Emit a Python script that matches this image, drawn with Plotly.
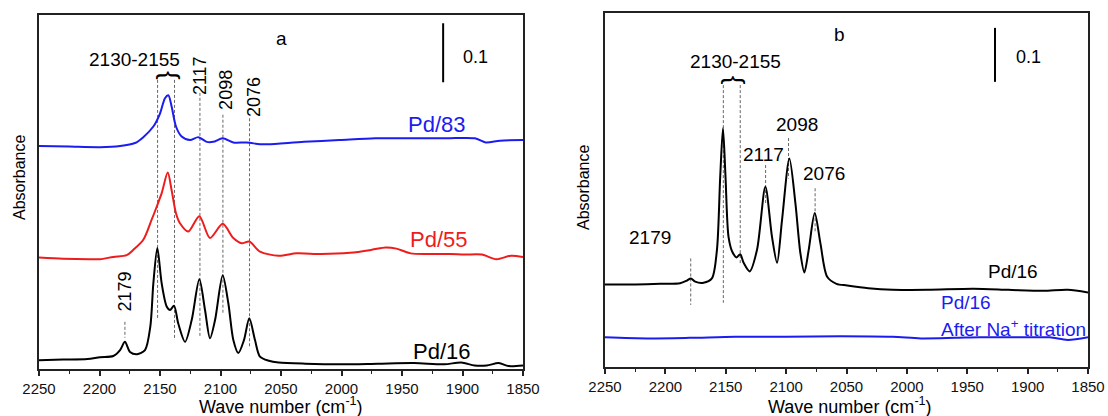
import plotly.graph_objects as go

# ---------------- data ----------------
# Panel a
wn_a16 = [2250, 2230, 2210, 2199.6, 2188.6, 2183, 2179, 2174.8, 2169, 2162.4, 2158, 2155.5, 2152.2, 2148.6,
          2144.5, 2141.7, 2138.4, 2134.9, 2129.3, 2123.8, 2117.5, 2112.8, 2108.7, 2104.5, 2098.2, 2093.5,
          2089.4, 2085.3, 2080.6, 2076.2, 2071.5, 2067.4, 2060, 2052, 2030, 2000, 1970, 1940, 1915, 1901,
          1890, 1880, 1870, 1862, 1850]
ab_a16 = [0.015, 0.016, 0.017, 0.020, 0.022, 0.032, 0.046, 0.029, 0.025, 0.032, 0.072, 0.145, 0.205, 0.145,
          0.106, 0.100, 0.107, 0.077, 0.046, 0.083, 0.152, 0.100, 0.052, 0.083, 0.159, 0.111,
          0.049, 0.027, 0.049, 0.086, 0.049, 0.021, 0.014, 0.011, 0.009, 0.008, 0.009, 0.010, 0.008, 0.011,
          0.006, 0.006, 0.010, 0.005, 0.006]

wn_a55 = [2250, 2230, 2208, 2199.6, 2188.6, 2177.5, 2172, 2163.8, 2156.9, 2152.2, 2148.6, 2143.6, 2140.4,
          2136.8, 2133.5, 2126.6, 2117.5, 2108.7, 2098.2, 2089.4, 2082.5, 2076.2, 2067.4, 2052, 2037, 2017,
          1993, 1975, 1963.5, 1954.6, 1942.8, 1928, 1910, 1898.5, 1884, 1872, 1860, 1850]
ab_a55 = [0.189, 0.187, 0.186, 0.186, 0.190, 0.193, 0.202, 0.219, 0.253, 0.278, 0.298, 0.333, 0.303,
          0.264, 0.247, 0.233, 0.259, 0.222, 0.246, 0.222, 0.213, 0.216, 0.199, 0.192, 0.196, 0.195,
          0.197, 0.202, 0.206, 0.204, 0.196, 0.195, 0.195, 0.194, 0.194, 0.186, 0.192, 0.190]

wn_a83 = [2250, 2225, 2199.6, 2183, 2170.7, 2163.8, 2155.5, 2150, 2145.9, 2143.1, 2140.4, 2136.8, 2132.1,
          2125.2, 2118.3, 2111.4, 2106, 2098.2, 2089.4, 2078.4, 2067.4, 2060.8, 2031, 2001.8, 1972, 1942.8,
          1913.3, 1889.7, 1880.8, 1869, 1850]
ab_a83 = [0.378, 0.377, 0.376, 0.378, 0.383, 0.393, 0.411, 0.433, 0.459, 0.464, 0.445, 0.411, 0.394,
          0.388, 0.393, 0.385, 0.385, 0.391, 0.384, 0.384, 0.381, 0.381, 0.385, 0.388, 0.391, 0.391,
          0.391, 0.391, 0.384, 0.387, 0.388]

# Panel b
wn_b16 = [2250, 2225, 2204.4, 2187.8, 2182.2, 2178.9, 2175.3, 2168.4, 2161.5, 2157.3, 2154.6, 2152.3,
          2150.2, 2147.7, 2144.5, 2141, 2138, 2135.2, 2130.2, 2124.1, 2117.2, 2111.7, 2107.5, 2103.4,
          2097.3, 2092.3, 2088.2, 2084.9, 2081.3, 2076.3, 2071.6, 2066, 2058.3, 2049.5, 2032, 2011.8,
          1982.8, 1945, 1916, 1887, 1866.8, 1850]
ab_b16 = [0.153, 0.153, 0.154, 0.155, 0.160, 0.164, 0.158, 0.156, 0.164, 0.217, 0.352, 0.442,
          0.352, 0.241, 0.213, 0.203, 0.209, 0.193, 0.177, 0.217, 0.334, 0.241, 0.193, 0.272,
          0.386, 0.303, 0.211, 0.175, 0.217, 0.285, 0.229, 0.167, 0.154, 0.151, 0.146, 0.143,
          0.143, 0.145, 0.143, 0.141, 0.143, 0.138]

wn_b16na = [2250, 2215, 2180, 2142, 2100, 2055, 2012, 1988.6, 1960, 1939.3, 1900, 1881.6, 1866.8, 1850]
ab_b16na = [0.055, 0.053, 0.054, 0.056, 0.056, 0.057, 0.056, 0.053, 0.054, 0.055, 0.055, 0.055, 0.050, 0.055]

# Peak markers (wavenumber, top, bottom of dashed guide)
peak_a_wn = [2152, 2138, 2117, 2098, 2076, 2179]
peak_a_top = [0.490, 0.490, 0.468, 0.431, 0.425, 0.080]
peak_a_bot = [0.086, 0.049, 0.053, 0.092, 0.037, 0.053]
peak_b_wn = [2152, 2138, 2117, 2098, 2076, 2179]
peak_b_top = [0.522, 0.522, 0.374, 0.424, 0.331, 0.201]
peak_b_bot = [0.119, 0.189, 0.300, 0.349, 0.251, 0.115]

x_ticks = [2250, 2200, 2150, 2100, 2050, 2000, 1950, 1900, 1850]

FONT = "Liberation Sans, Arial, sans-serif"
BLUE = "#1c1cf0"
RED = "#ee1c1c"
BLACK = "#000000"

fig = go.Figure()


def dashed(wn, top, bot, xa, ya):
    xs, ys = [], []
    for w, t, b in zip(wn, top, bot):
        xs += [w, w, None]
        ys += [t, b, None]
    fig.add_trace(go.Scatter(x=xs, y=ys, mode="lines", xaxis=xa, yaxis=ya,
                             line=dict(color="#666666", width=1, dash="3px,2px"),
                             hoverinfo="skip", showlegend=False))


dashed(peak_a_wn, peak_a_top, peak_a_bot, "x", "y")
dashed(peak_b_wn, peak_b_top, peak_b_bot, "x2", "y2")

for wn, ab, col, xa, ya in [(wn_a83, ab_a83, BLUE, "x", "y"),
                            (wn_a55, ab_a55, RED, "x", "y"),
                            (wn_a16, ab_a16, BLACK, "x", "y"),
                            (wn_b16na, ab_b16na, BLUE, "x2", "y2"),
                            (wn_b16, ab_b16, BLACK, "x2", "y2")]:
    fig.add_trace(go.Scatter(x=wn, y=ab, mode="lines", xaxis=xa, yaxis=ya,
                             line=dict(color=col, width=2, shape="spline", smoothing=0.8),
                             showlegend=False))

# scale bars (0.1 absorbance)
fig.add_trace(go.Scatter(x=[1916, 1916], y=[0.486, 0.586], mode="lines", xaxis="x", yaxis="y",
                         line=dict(color=BLACK, width=2), showlegend=False))
fig.add_trace(go.Scatter(x=[1927, 1927], y=[0.528, 0.628], mode="lines", xaxis="x2", yaxis="y2",
                         line=dict(color=BLACK, width=2), showlegend=False))

axis_common = dict(showline=True, linecolor="#222222", linewidth=1.5, mirror=True,
                   showgrid=False, zeroline=False, automargin=False)
xcommon = dict(axis_common, range=[2250, 1850], tickvals=x_ticks, ticks="outside", ticklen=5,
               tickwidth=1.5, tickcolor="#222222",
               minor=dict(ticks="outside", ticklen=3, tickwidth=1, tickcolor="#222222", dtick=25, tick0=1850),
               tickfont=dict(family=FONT, size=15, color="#111111"))
ycommon = dict(axis_common, ticks="", showticklabels=False)

fig.update_layout(
    width=1108, height=416, margin=dict(l=0, r=0, t=0, b=0, autoexpand=False),
    plot_bgcolor="white", paper_bgcolor="white", showlegend=False,
    xaxis=dict(xcommon, domain=[39 / 1108, 523 / 1108], anchor="y"),
    yaxis=dict(ycommon, domain=[1 - 369 / 416, 1 - 15 / 416], range=[0, 0.6], anchor="x"),
    xaxis2=dict(xcommon, domain=[605 / 1108, 1088 / 1108], anchor="y2"),
    yaxis2=dict(ycommon, domain=[1 - 367 / 416, 1 - 13 / 416], range=[0, 354 / 540], anchor="x2"),
)

ann = []


def txt(text, x, y, xref, yref, size, color=BLACK, angle=0, xanchor="center"):
    ann.append(dict(text=text, x=x, y=y, xref=xref, yref=yref, showarrow=False,
                    textangle=angle, xanchor=xanchor, yanchor="middle",
                    font=dict(family=FONT, size=size, color=color)))


# Panel a text
txt("a", 2050, 0.561, "x", "y", 19)
txt("0.1", 1889, 0.529, "x", "y", 18)
txt("2130-2155", 2170.7, 0.524, "x", "y", 19)
txt("}", 2145, 0.497, "x", "y", 26, angle=-90)
txt(str(peak_a_wn[2]), 2117, 0.498, "x", "y", 18, angle=-90)
txt(str(peak_a_wn[3]), 2095.5, 0.473, "x", "y", 18, angle=-90)
txt(str(peak_a_wn[4]), 2072.3, 0.461, "x", "y", 18, angle=-90)
txt(str(peak_a_wn[5]), 2179, 0.131, "x", "y", 18, angle=-90)
txt("Pd/83", 1921, 0.415, "x", "y", 22, color=BLUE)
txt("Pd/55", 1919.4, 0.219, "x", "y", 22, color=RED)
txt("Pd/16", 1917, 0.029, "x", "y", 22)

# Panel b text
txt("b", 2056, 0.615, "x2", "y2", 19)
txt("0.1", 1899, 0.574, "x2", "y2", 18)
txt("2130-2155", 2141.7, 0.565, "x2", "y2", 19)
txt("}", 2145.4, 0.531, "x2", "y2", 26, angle=-90)
txt(str(peak_b_wn[3]), 2090.7, 0.450, "x2", "y2", 19)
txt(str(peak_b_wn[2]), 2118.5, 0.393, "x2", "y2", 19)
txt(str(peak_b_wn[4]), 2068.3, 0.359, "x2", "y2", 19)
txt(str(peak_b_wn[5]), 2213, 0.239, "x2", "y2", 19)
txt("Pd/16", 1912.2, 0.176, "x2", "y2", 19)
txt("Pd/16", 1973.6, 0.120, "x2", "y2", 19, color=BLUE, xanchor="left")
txt("After Na<sup>+</sup> titration", 1973.6, 0.072, "x2", "y2", 19, color=BLUE, xanchor="left")

# axis titles (domain-referenced)
txt("Wave number (cm<sup>-1</sup>)", 0.5, -0.104, "x domain", "y domain", 18)
txt("Wave number (cm<sup>-1</sup>)", 0.507, -0.110, "x2 domain", "y2 domain", 18)
txt("Absorbance", -0.0413, 0.5395, "x domain", "y domain", 16, angle=-90)
txt("Absorbance", -0.0455, 0.5056, "x2 domain", "y2 domain", 16, angle=-90)

fig.update_layout(annotations=ann)
fig.write_html("out.html")
